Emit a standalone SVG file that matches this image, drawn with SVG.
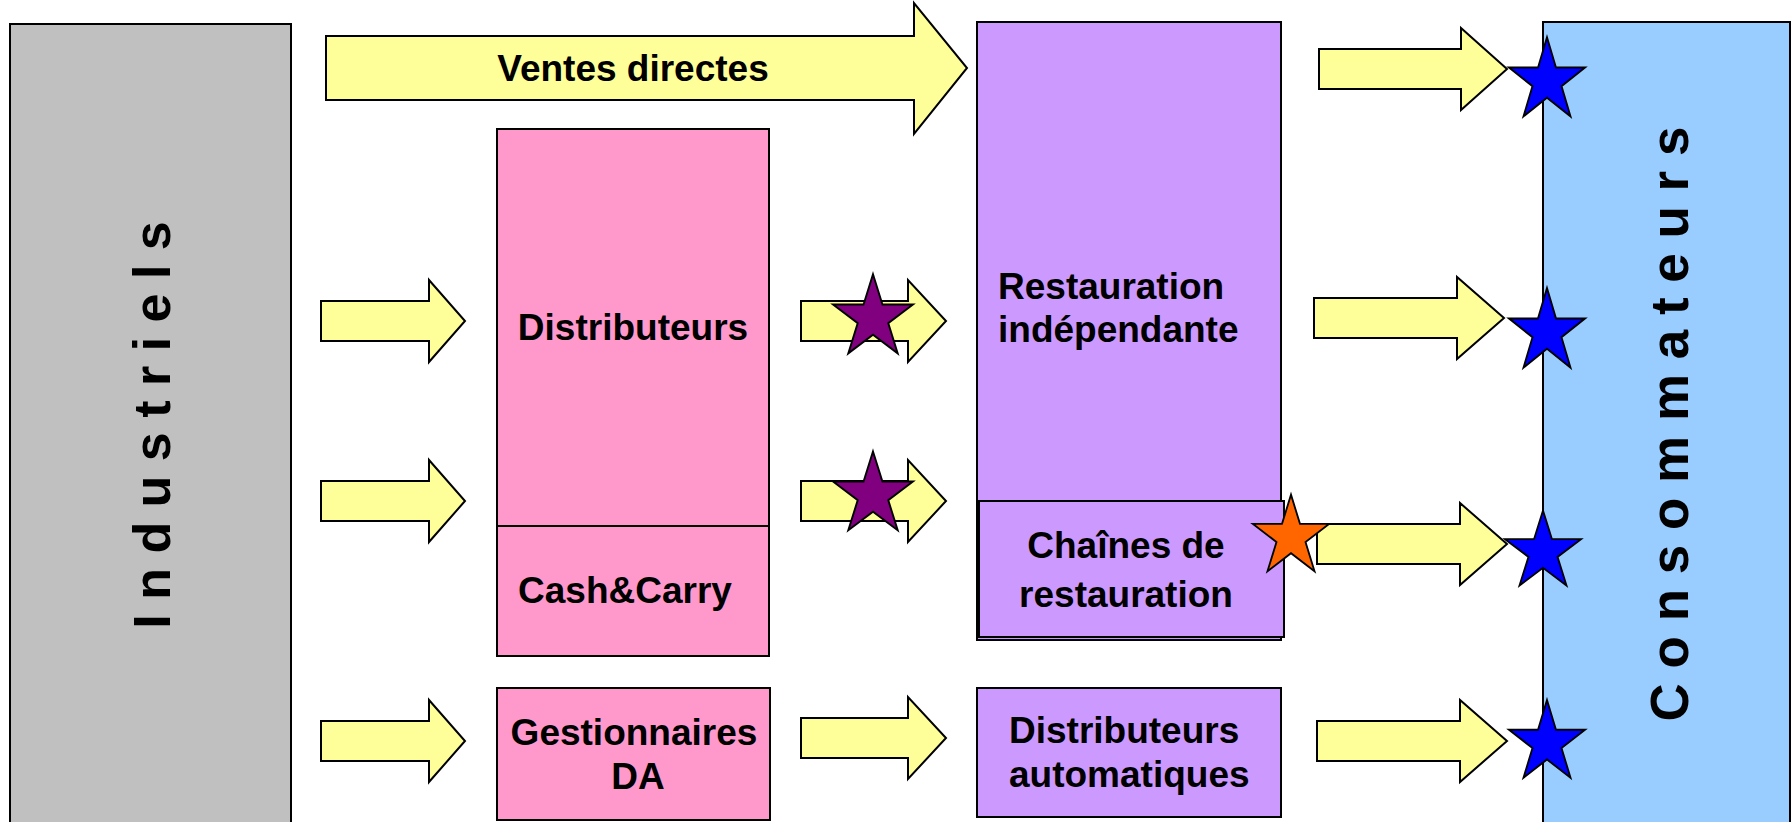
<svg xmlns="http://www.w3.org/2000/svg" xmlns:xlink="http://www.w3.org/1999/xlink" width="1792" height="822" viewBox="0 0 1792 822">
<style>
.box{stroke:#000;stroke-width:2}
.grey{fill:#C0C0C0}
.pink{fill:#FF99CC}
.violet{fill:#CC99FF}
.blue{fill:#99CCFF}
.arrow{fill:#FFFF99;stroke:#000;stroke-width:2;stroke-linejoin:miter}
.lbl{font-family:"Liberation Sans",Arial,sans-serif;font-weight:bold;font-size:37px;fill:#000}
.big{font-family:"Liberation Sans",Arial,sans-serif;font-weight:bold;font-size:52px;fill:#000}
.mid{text-anchor:middle}
.sp{fill:#800080}
.so{fill:#FF6600}
.sb{fill:#0000FF}
</style>
<defs>
<path id="star" d="M0,-1 L0.2245,-0.309 L0.951,-0.309 L0.363,0.118 L0.588,0.809 L0,0.382 L-0.588,0.809 L-0.363,0.118 L-0.951,-0.309 L-0.2245,-0.309 Z" stroke="#000" stroke-width="0.045" stroke-linejoin="miter"/>
</defs>
<rect width="1792" height="822" fill="#fff"/>
<g id="industriels">
<rect class="box grey" x="10" y="24" width="281" height="800"/>
<text class="big mid" transform="translate(170,425) rotate(-90)">I n d u s t r i e l s</text>
</g>
<g id="consommateurs">
<rect class="box blue" x="1543" y="22" width="247" height="802"/>
<text class="big mid" style="font-size:53px" transform="translate(1688,424) rotate(-90)">C o n s o m m a t e u r s</text>
</g>
<g id="distributeurs">
<rect class="box pink" x="497" y="129" width="272" height="397"/>
<text class="lbl mid" x="633" y="340">Distributeurs</text>
</g>
<g id="cashcarry">
<rect class="box pink" x="497" y="526" width="272" height="130"/>
<text class="lbl mid" x="625" y="603">Cash&amp;Carry</text>
</g>
<g id="gestionnaires">
<rect class="box pink" x="497" y="688" width="273" height="132"/>
<text class="lbl mid" x="634" y="745">Gestionnaires</text>
<text class="lbl mid" x="638" y="789">DA</text>
</g>
<g id="restauration-independante">
<rect class="box violet" x="977" y="22" width="304" height="618"/>
<text class="lbl" x="998" y="299">Restauration</text>
<text class="lbl" x="998" y="342">indépendante</text>
</g>
<g id="chaines">
<rect class="box violet" x="979" y="501" width="305" height="136"/>
<text class="lbl mid" x="1126" y="558">Chaînes de</text>
<text class="lbl mid" x="1126" y="607">restauration</text>
</g>
<g id="distributeurs-automatiques">
<rect class="box violet" x="977" y="688" width="304" height="129"/>
<text class="lbl" x="1009" y="743">Distributeurs</text>
<text class="lbl" x="1009" y="787">automatiques</text>
</g>
<g id="connectors">
<path class="arrow" d="M326,36 H914 V3 L967,68 L914,134 V100 H326 Z"/>
<path class="arrow" d="M321,301 H429 V280 L465,321 L429,362 V341 H321 Z"/>
<path class="arrow" d="M321,481 H429 V460 L465,501 L429,542 V521 H321 Z"/>
<path class="arrow" d="M321,721 H429 V700 L465,741 L429,782 V761 H321 Z"/>
<path class="arrow" d="M801,301 H908 V280 L946,321 L908,362 V341 H801 Z"/>
<path class="arrow" d="M801,481 H908 V460 L946,501 L908,542 V521 H801 Z"/>
<path class="arrow" d="M801,718 H908 V697 L946,738 L908,779 V758 H801 Z"/>
<path class="arrow" d="M1319,49 H1461 V28 L1507,69 L1461,110 V89 H1319 Z"/>
<path class="arrow" d="M1314,298 H1457 V277 L1504,318 L1457,359 V338 H1314 Z"/>
<path class="arrow" d="M1317,524 H1460 V503 L1507,544 L1460,585 V564 H1317 Z"/>
<path class="arrow" d="M1317,721 H1460 V700 L1507,741 L1460,782 V761 H1317 Z"/>
<text class="lbl mid" x="633" y="81">Ventes directes</text>
</g>
<g id="stars">
<use xlink:href="#star" class="sp" transform="translate(873,318) scale(42,43.7)"/>
<use xlink:href="#star" class="sp" transform="translate(873,495) scale(42,43.5)"/>
<use xlink:href="#star" class="so" transform="translate(1291,537) scale(40,42.4)"/>
<use xlink:href="#star" class="sb" transform="translate(1547,81) scale(40,43.7)"/>
<use xlink:href="#star" class="sb" transform="translate(1547,332) scale(40,44)"/>
<use xlink:href="#star" class="sb" transform="translate(1543,552) scale(40,41.5)"/>
<use xlink:href="#star" class="sb" transform="translate(1547,743) scale(40,43)"/>
</g>
</svg>
